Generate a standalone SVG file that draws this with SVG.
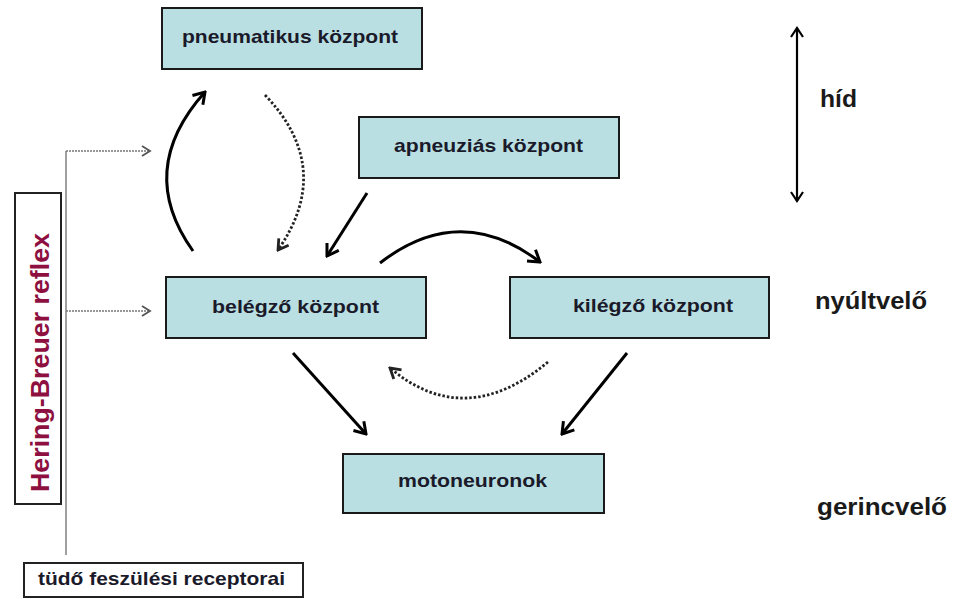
<svg xmlns="http://www.w3.org/2000/svg" width="959" height="599" viewBox="0 0 959 599">
<style>
.box{fill:#b9dfe2;stroke:#1a1a1a;stroke-width:2}
.lbl{font-family:"Liberation Sans",Arial,sans-serif;font-weight:bold;font-size:19px;fill:#1a1a2a;text-anchor:start}
.side{font-family:"Liberation Sans",Arial,sans-serif;font-weight:bold;font-size:23px;fill:#1a1a1a}
.solid{fill:none;stroke:#000;stroke-width:3;marker-end:url(#ah)}
.dot{fill:none;stroke:#222;stroke-width:2.8;stroke-dasharray:2.5 2;marker-end:url(#ahd)}
.gray{fill:none;stroke:#888;stroke-width:1.6}
.grayd{fill:none;stroke:#777;stroke-width:1.6;stroke-dasharray:2 1;marker-end:url(#ahg)}
</style>
<defs>
<marker id="ah" viewBox="-13 -9 15 18" refX="0" refY="0" markerWidth="15" markerHeight="18" markerUnits="userSpaceOnUse" orient="auto">
<path d="M-11,-7 L0,0 L-11,7" fill="none" stroke="#000" stroke-width="3"/>
</marker>
<marker id="ahd" viewBox="-13 -9 15 18" refX="0" refY="0" markerWidth="15" markerHeight="18" markerUnits="userSpaceOnUse" orient="auto">
<path d="M-10,-6 L0,0 L-10,6" fill="none" stroke="#222" stroke-width="2.8"/>
</marker>
<marker id="ahg" viewBox="-10 -7 12 14" refX="0" refY="0" markerWidth="12" markerHeight="14" markerUnits="userSpaceOnUse" orient="auto">
<path d="M-8,-5 L0,0 L-8,5" fill="none" stroke="#555" stroke-width="1.8"/>
</marker>
<marker id="ahb" viewBox="-11 -8 13 16" refX="0" refY="0" markerWidth="13" markerHeight="16" markerUnits="userSpaceOnUse" orient="auto-start-reverse">
<path d="M-9,-6 L0,0 L-9,6" fill="none" stroke="#000" stroke-width="2.2"/>
</marker>
</defs>
<rect width="959" height="599" fill="#fff"/>

<g id="connectors">
<path class="gray" d="M66,555 L66,151"/>
<path class="grayd" d="M66,151 L150,151"/>
<path class="grayd" d="M66,311 L150,311"/>
<path class="solid" d="M193,251 Q135,170 205,92"/>
<path class="dot" d="M265,95 Q335,168 278,250"/>
<path class="solid" d="M367,193 L327,256"/>
<path class="solid" d="M380,263 Q460,201 540,262"/>
<path class="dot" d="M548,362 Q465,431 390,368"/>
<path class="solid" d="M293,353 L366,434"/>
<path class="solid" d="M627,353 L562,434"/>
<path d="M797,28 L797,201" fill="none" stroke="#000" stroke-width="2.2" marker-start="url(#ahb)" marker-end="url(#ahb)"/>
</g>

<g id="pneumatikus">
<rect class="box" x="162" y="8" width="260" height="61"/>
<text class="lbl" x="182" y="43" textLength="216" lengthAdjust="spacingAndGlyphs">pneumatikus központ</text>
</g>
<g id="apneuzias">
<rect class="box" x="359" y="117" width="260" height="61"/>
<text class="lbl" x="394" y="152" textLength="189" lengthAdjust="spacingAndGlyphs">apneuziás központ</text>
</g>
<g id="belegzo">
<rect class="box" x="166" y="277" width="260" height="61"/>
<text class="lbl" x="212" y="313" textLength="167" lengthAdjust="spacingAndGlyphs">belégző központ</text>
</g>
<g id="kilegzo">
<rect class="box" x="510" y="277" width="259" height="61"/>
<text class="lbl" x="573" y="312" textLength="160" lengthAdjust="spacingAndGlyphs">kilégző központ</text>
</g>
<g id="motoneuronok">
<rect class="box" x="343" y="454" width="261" height="59"/>
<text class="lbl" x="398" y="487" textLength="149" lengthAdjust="spacingAndGlyphs">motoneuronok</text>
</g>
<g id="hering-breuer">
<rect x="15" y="193" width="46" height="311" fill="#fff" stroke="#222" stroke-width="2"/>
<text x="0" y="0" transform="translate(49,362.5) rotate(-90)" font-family="'Liberation Sans',Arial,sans-serif" font-weight="bold" font-size="26" fill="#8e1040" text-anchor="middle" textLength="259" lengthAdjust="spacingAndGlyphs">Hering-Breuer reflex</text>
</g>
<g id="tudo">
<rect x="24" y="563" width="279" height="34" fill="#fff" stroke="#222" stroke-width="2"/>
<text class="lbl" x="38" y="585" textLength="247" lengthAdjust="spacingAndGlyphs">tüdő feszülési receptorai</text>
</g>
<g id="labels">
<text class="side" x="820" y="107" textLength="37" lengthAdjust="spacingAndGlyphs">híd</text>
<text class="side" x="815" y="309" textLength="112" lengthAdjust="spacingAndGlyphs">nyúltvelő</text>
<text class="side" x="817" y="515" textLength="130" lengthAdjust="spacingAndGlyphs">gerincvelő</text>
</g>
</svg>
